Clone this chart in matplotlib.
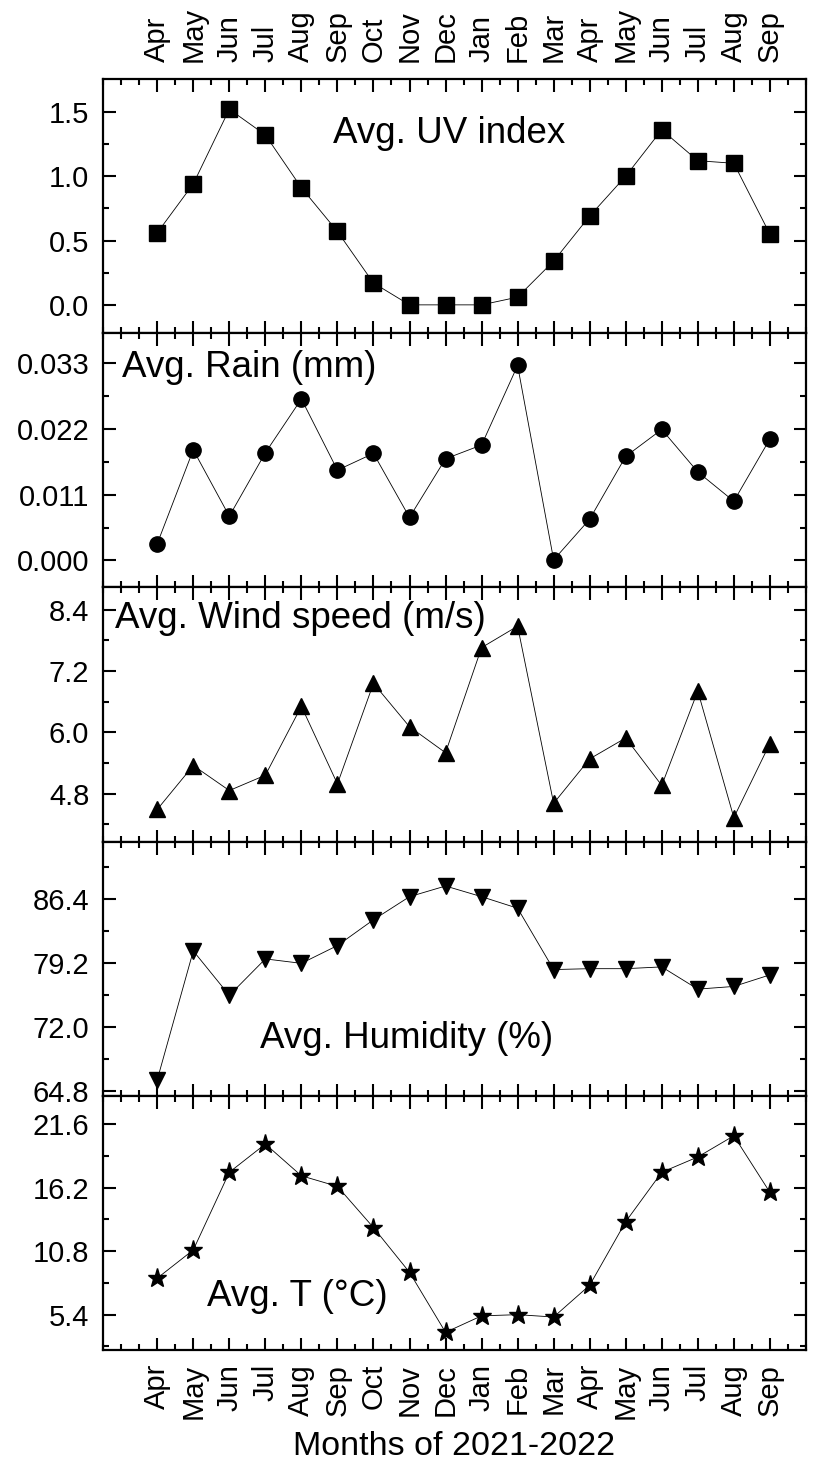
import numpy as np
import matplotlib
matplotlib.use("Agg")
import matplotlib.pyplot as plt
from matplotlib.ticker import MultipleLocator, FixedLocator, FormatStrFormatter

plt.rcParams['font.family'] = ['Liberation Sans', 'DejaVu Sans']

# 2021-04 .. 2022-09
months = ['Apr', 'May', 'Jun', 'Jul', 'Aug', 'Sep', 'Oct', 'Nov', 'Dec',
          'Jan', 'Feb', 'Mar', 'Apr', 'May', 'Jun', 'Jul', 'Aug', 'Sep']

uv = [0.56, 0.94, 1.52, 1.32, 0.91, 0.57, 0.17, 0.00, 0.00,
      0.00, 0.06, 0.34, 0.69, 1.00, 1.36, 1.12, 1.10, 0.55]
rain = [0.0028, 0.0185, 0.0074, 0.0180, 0.0270, 0.0151, 0.0179, 0.0072, 0.0170,
        0.0193, 0.0326, 0.0001, 0.0069, 0.0174, 0.0219, 0.0148, 0.0099, 0.0203]
wind = [4.49, 5.35, 4.86, 5.16, 6.51, 4.99, 6.96, 6.11, 5.60,
        7.66, 8.08, 4.61, 5.48, 5.89, 4.96, 6.81, 4.33, 5.78]
humidity = [66.1, 80.6, 75.6, 79.7, 79.2, 81.2, 84.1, 86.7, 87.9,
            86.7, 85.4, 78.5, 78.6, 78.6, 78.8, 76.3, 76.6, 77.9]
temp = [8.5, 10.9, 17.5, 19.9, 17.2, 16.3, 12.8, 9.0, 3.9,
        5.3, 5.4, 5.2, 7.9, 13.3, 17.5, 18.8, 20.6, 15.8]

series = [uv, rain, wind, humidity, temp]
markers = ['s', 'o', '^', 'v', '*']
msizes = [11, 11, 12, 12, 14]
titles = ['Avg. UV index', 'Avg. Rain (mm)', 'Avg. Wind speed (m/s)',
          'Avg. Humidity (%)', 'Avg. T (°C)']
title_pos = [(0.327, 0.787), (0.027, 0.866), (0.017, 0.878), (0.223, 0.225), (0.148, 0.209)]
ylims = [(-0.22, 1.755), (-0.0045, 0.038), (3.86, 8.84), (64.3, 92.9), (2.4, 24.0)]
majors = [[0.0, 0.5, 1.0, 1.5], [0.0, 0.011, 0.022, 0.033], [4.8, 6.0, 7.2, 8.4],
          [64.8, 72.0, 79.2, 86.4], [5.4, 10.8, 16.2, 21.6]]
minors = [[-0.25, 0.25, 0.75, 1.25], [0.0055, 0.0165, 0.0275, 0.0385], [4.2, 5.4, 6.6, 7.8],
          [68.4, 75.6, 82.8, 90.0], [2.7, 8.1, 13.5, 18.9]]
fmts = ['%.1f', '%.3f', '%.1f', '%.1f', '%.1f']

x = np.arange(len(months))

fig, axes = plt.subplots(5, 1, figsize=(8.19, 14.68), dpi=100, sharex=True,
                         gridspec_kw=dict(hspace=0))
fig.subplots_adjust(left=0.126, right=0.984, top=0.9462, bottom=0.0804)

for i, ax in enumerate(axes):
    ax.plot(x, series[i], '-', color='black', lw=0.6, marker=markers[i],
            ms=msizes[i], mfc='black', mec='black')
    ax.set_ylim(*ylims[i])
    ax.yaxis.set_major_locator(FixedLocator(majors[i]))
    ax.yaxis.set_minor_locator(FixedLocator(minors[i]))
    ax.yaxis.set_major_formatter(FormatStrFormatter(fmts[i]))
    ax.text(title_pos[i][0], title_pos[i][1], titles[i], transform=ax.transAxes,
            fontsize=26.5, ha='left', va='center')
    for s in ax.spines.values():
        s.set_linewidth(1.6)
    ax.tick_params(which='both', direction='in', top=True, right=True, width=1.5)
    ax.tick_params(which='major', length=9)
    ax.tick_params(which='minor', length=4.5)
    ax.tick_params(axis='y', labelsize=21, pad=10)
    ax.tick_params(axis='x', labelsize=21, labelbottom=False, labeltop=False, pad=10)

ax = axes[-1]
ax.set_xlim(-1.5, 18)
ax.xaxis.set_major_locator(FixedLocator(x))
ax.xaxis.set_minor_locator(MultipleLocator(0.5))
ax.set_xticklabels(months, rotation=90)
axes[-1].tick_params(axis='x', labelbottom=True)
axes[0].tick_params(axis='x', labeltop=True, pad=12)
for lab in axes[0].get_xticklabels(which='major'):
    lab.set_rotation(90)
axes[-1].set_xlabel('Months of 2021-2022', fontsize=24.5, labelpad=9)

fig.savefig('out.png', dpi=100)
